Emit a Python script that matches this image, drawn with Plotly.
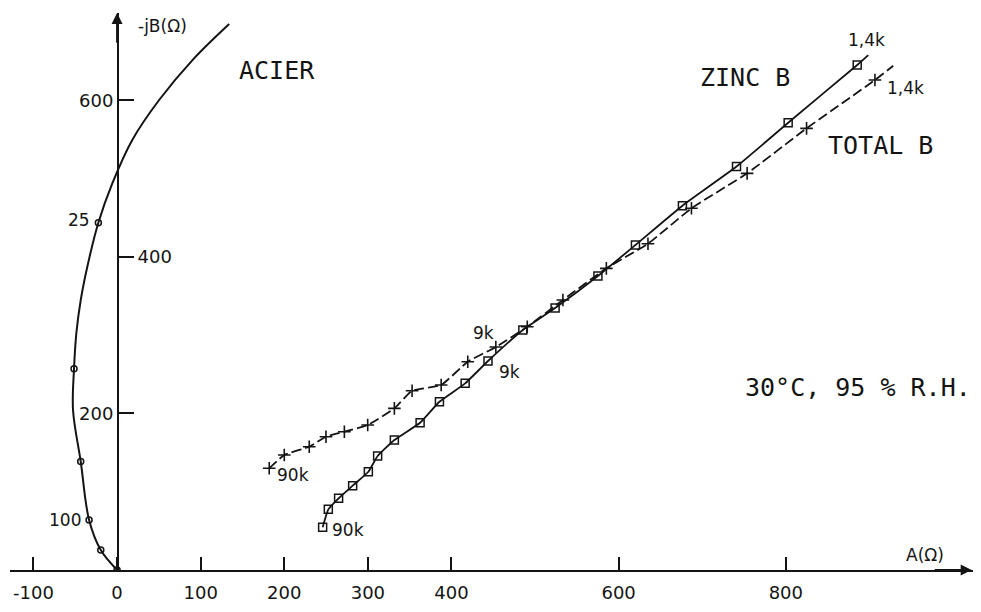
import plotly.graph_objects as go

# ---------------- data ----------------
# ACIER curve (A in ohm, -jB in ohm)
acier_curve_A = [134.1, 90.2, 50.3, 18, -5.6, -22.4, -35.6, -43.5, -48.7, -51.5, -52.7, -43.5, -33.5, -19.5, 0]
acier_curve_B = [697.3, 651.3, 600.3, 549, 494, 443.5, 387.4, 344.8, 302.7, 257, 204, 138.6, 64, 25.5, 0]
acier_pts_A = [0, -19.5, -33.5, -43.5, -51.5, -22.4]
acier_pts_B = [0, 25.5, 64, 138.6, 257, 443.5]

# ZINC B (squares), from 90k to 1,4k
zinc_A = [245.9, 252.7, 265.0, 281.8, 300.6, 311.7, 331.7, 362.5, 385.6, 416.4, 443.7,
          485.4, 524.0, 575.2, 620.1, 676.3, 741.0, 802.8, 885.4]
zinc_B = [54.5, 77.5, 91.6, 107.7, 125.5, 145.6, 166.0, 188.1, 214.9, 238.4, 266.9,
          306.5, 334.6, 375.5, 415.1, 465.3, 515.3, 571.3, 645.0]
zinc_line_end_A = [898.6]
zinc_line_end_B = [657.7]

# TOTAL B (crosses), from 90k to 1,4k
total_A = [182.0, 200.0, 229.9, 249.9, 271.9, 299.8, 331.7, 352.9, 387.7, 419.5, 453.1,
           490.7, 533.3, 585.3, 635.1, 687.1, 753.7, 824.8, 906.6]
total_B = [129.9, 146.9, 157.5, 170.2, 176.6, 185.2, 206.5, 229.0, 236.3, 266.0, 284.8,
           310.7, 344.8, 385.3, 416.7, 462.0, 506.6, 564.1, 625.8]
total_line_end_A = [928.5]
total_line_end_B = [644.0]

x_tick_vals = [-100, 0, 100, 200, 300, 400, 600, 800]
x_tick_text = ["-100", "0", "100", "200", "300", "400", "600", "800"]
y_tick_vals_left = [200, 600]
y_tick_vals_right = [400]

# ---------------- figure ----------------
INK = "#141414"
TICK_FONT = dict(family="DejaVu Sans", size=18, color=INK)
LBL_FONT = dict(family="DejaVu Sans", size=17, color=INK)
TYPE_FONT = dict(family="DejaVu Sans Mono", size=25, color=INK)

X_RANGE = [-128.1, 1026.3]
Y_RANGE = [0, 711.4]
Y_DOMAIN = [0.0701, 1.0]
Y_POS = 0.1119

fig = go.Figure()

# ACIER
fig.add_trace(go.Scatter(x=acier_curve_A, y=acier_curve_B, mode="lines",
                         line=dict(color=INK, width=2, shape="spline", smoothing=1.0),
                         hoverinfo="skip", showlegend=False))
fig.add_trace(go.Scatter(x=acier_pts_A, y=acier_pts_B, mode="markers",
                         marker=dict(symbol="circle-open", size=6, color=INK, line=dict(width=1.5)),
                         showlegend=False))

# ZINC B
fig.add_trace(go.Scatter(x=zinc_A + zinc_line_end_A, y=zinc_B + zinc_line_end_B, mode="lines",
                         line=dict(color=INK, width=1.8, shape="spline", smoothing=0.4),
                         hoverinfo="skip", showlegend=False))
fig.add_trace(go.Scatter(x=zinc_A, y=zinc_B, mode="markers",
                         marker=dict(symbol="square-open", size=8, color=INK, line=dict(width=1.5)),
                         showlegend=False))

# TOTAL B
fig.add_trace(go.Scatter(x=total_A + total_line_end_A, y=total_B + total_line_end_B, mode="lines",
                         line=dict(color=INK, width=1.8, dash="10px,4px", shape="spline", smoothing=0.4),
                         hoverinfo="skip", showlegend=False))
fig.add_trace(go.Scatter(x=total_A, y=total_B, mode="markers",
                         marker=dict(symbol="cross-thin", size=9, color=INK, line=dict(width=1.6, color=INK)),
                         showlegend=False))

# dummy trace on yaxis2 so the right-side tick is drawn
fig.add_trace(go.Scatter(x=[None], y=[None], yaxis="y2", showlegend=False))

ann = []
# axis arrow heads
ann.append(dict(x=0, y=Y_RANGE[1], ax=0, ay=Y_RANGE[1] - 40, xref="x", yref="y", axref="x", ayref="y",
                text="", showarrow=True, arrowhead=2, arrowsize=1.1, arrowwidth=2, arrowcolor=INK))
ann.append(dict(x=X_RANGE[1] - 4, y=0, ax=X_RANGE[1] - 50, ay=0, xref="x", yref="y", axref="x", ayref="y",
                text="", showarrow=True, arrowhead=2, arrowsize=1.1, arrowwidth=2, arrowcolor=INK))

# axis titles
ann.append(dict(x=22.8, y=694.8, xref="x", yref="y", text="-jB(Ω)", showarrow=False,
                xanchor="left", yanchor="middle", font=LBL_FONT))
ann.append(dict(x=966.5, y=0, xref="x", yref="y", text="A(Ω)", showarrow=False,
                xanchor="center", yanchor="bottom", yshift=3, font=LBL_FONT))

# series names / condition (typewriter)
ann.append(dict(x=191.6, y=638.6, xref="x", yref="y", text="ACIER", showarrow=False, font=TYPE_FONT))
ann.append(dict(x=750.9, y=628.4, xref="x", yref="y", text="ZINC B", showarrow=False, font=TYPE_FONT))
ann.append(dict(x=913.8, y=542.8, xref="x", yref="y", text="TOTAL B", showarrow=False, font=TYPE_FONT))
ann.append(dict(x=886.0, y=233.7, xref="x", yref="y", text="30°C, 95 % R.H.", showarrow=False,
                font=TYPE_FONT))

# frequency labels attached to points
def pt_label(x, y, text, xanchor, xshift, yshift):
    ann.append(dict(x=x, y=y, xref="x", yref="y", text=text, showarrow=False,
                    xanchor=xanchor, yanchor="middle", xshift=xshift, yshift=yshift, font=LBL_FONT))

pt_label(acier_pts_A[5], acier_pts_B[5], "25", "right", -6, 3)
pt_label(acier_pts_A[2], acier_pts_B[2], "100", "right", -6, 0)
pt_label(total_A[0], total_B[0], "90k", "left", 6, -7)
pt_label(zinc_A[0], zinc_B[0], "90k", "left", 7, -3)
pt_label(total_A[10], total_B[10], "9k", "center", -12, 14)
pt_label(zinc_A[10], zinc_B[10], "9k", "left", 9, -11)
pt_label(zinc_A[-1], zinc_B[-1], "1,4k", "center", 9, 25)
pt_label(total_A[-1], total_B[-1], "1,4k", "left", 10, -8)

# the page body has an 8px default margin, so the figure is shifted by 8px
fig.update_layout(
    width=973, height=604,
    margin=dict(l=2, r=6, t=5, b=0),
    paper_bgcolor="white", plot_bgcolor="white",
    showlegend=False,
    annotations=ann,
    xaxis=dict(range=X_RANGE, domain=[0, 1], anchor="y", showgrid=False, zeroline=False,
               showline=True, linecolor=INK, linewidth=2,
               ticks="inside", ticklen=13, tickwidth=2, tickcolor=INK,
               tickvals=x_tick_vals, ticktext=x_tick_text, tickfont=TICK_FONT,
               ticklabelstandoff=5),
    yaxis=dict(range=Y_RANGE, domain=Y_DOMAIN, anchor="free", position=Y_POS, side="left",
               showgrid=False, zeroline=False, showline=True, linecolor=INK, linewidth=2,
               ticks="inside", ticklen=15, tickwidth=2, tickcolor=INK,
               tickvals=y_tick_vals_left, tickfont=TICK_FONT),
    yaxis2=dict(range=Y_RANGE, domain=Y_DOMAIN, anchor="free", position=Y_POS, side="right",
                overlaying="y", showgrid=False, zeroline=False, showline=False,
                ticks="outside", ticklen=15, tickwidth=2, tickcolor=INK,
                tickvals=y_tick_vals_right, tickfont=TICK_FONT),
)

fig.write_html("out.html")
